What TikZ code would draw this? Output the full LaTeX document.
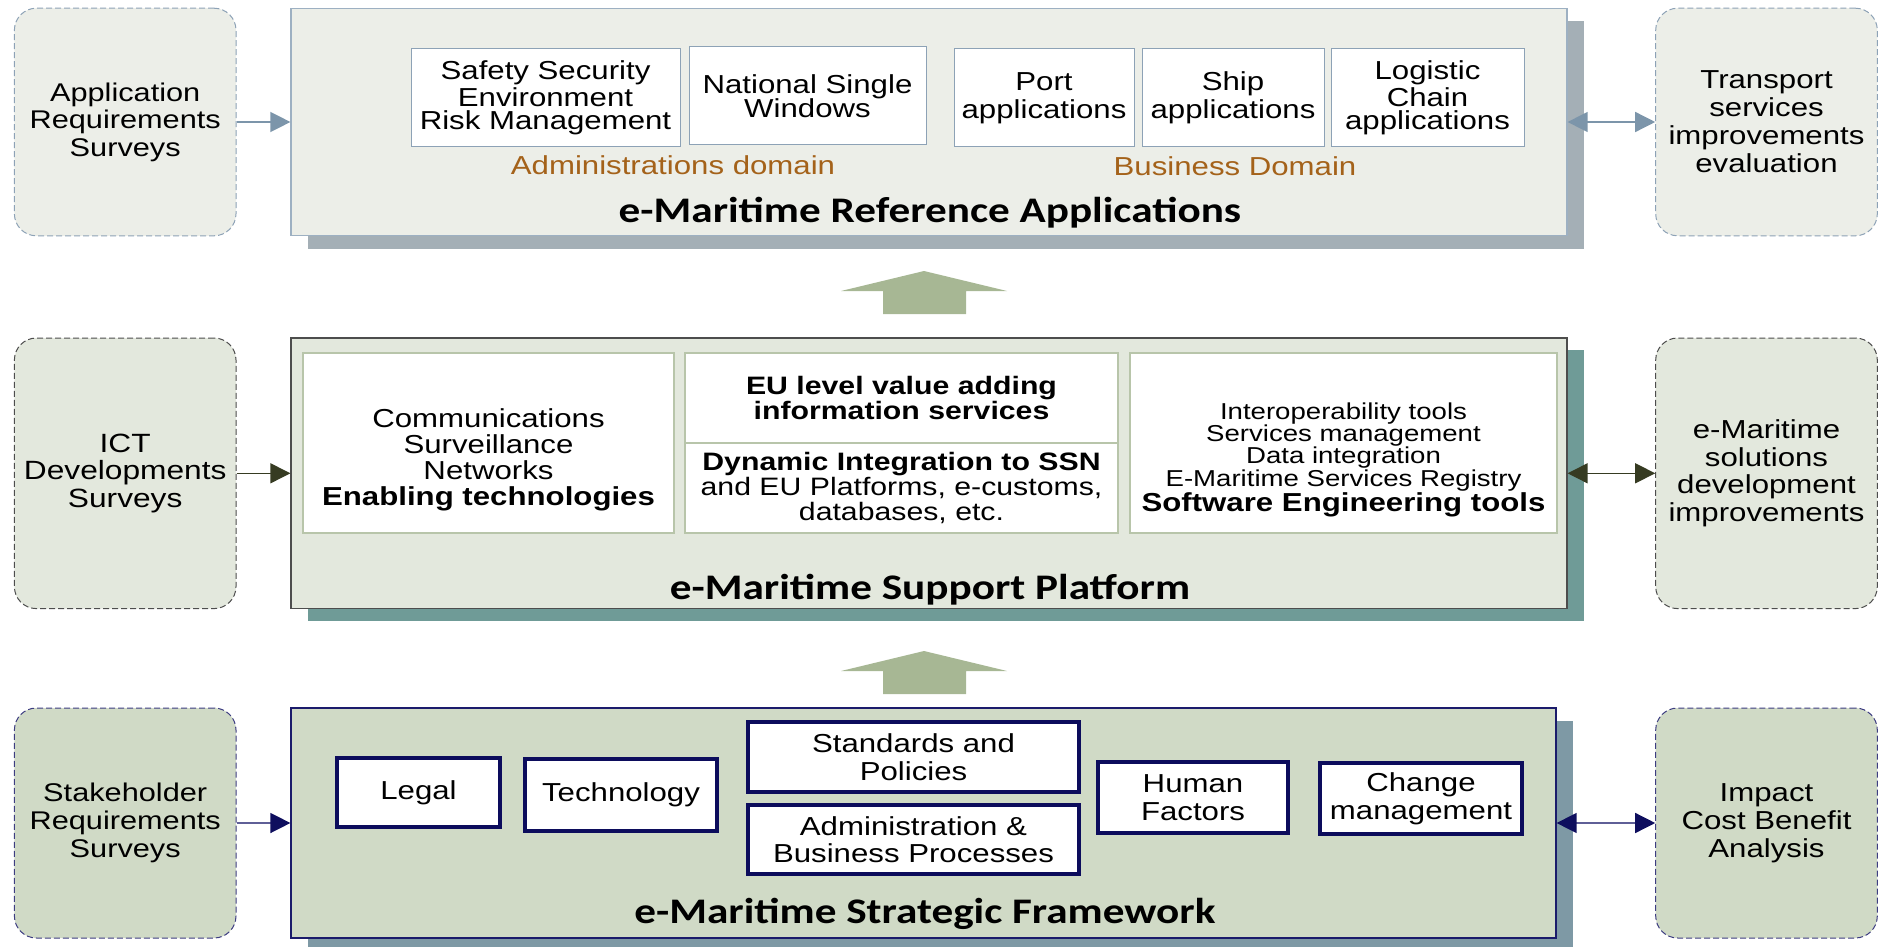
\documentclass[tikz,border=0pt]{standalone}
\usepackage{fontspec}
\setmainfont{Liberation Sans}[FakeStretch=1.2]
\newfontfamily\titlefont{Carlito}[FakeStretch=1.2]
\usetikzlibrary{arrows.meta,shadows}

\definecolor{appfill}{HTML}{ECEEE8}
\definecolor{appline}{HTML}{9DB0C2}
\definecolor{appshadow}{HTML}{A4AFB6}
\definecolor{appbox}{HTML}{8DA2B6}
\definecolor{apparrow}{HTML}{7C95AA}
\definecolor{supfill}{HTML}{E3E8DD}
\definecolor{supline}{HTML}{4D4D4D}
\definecolor{supbox}{HTML}{B8C5AA}
\definecolor{supshadow}{HTML}{6F9B97}
\definecolor{suparrow}{HTML}{363B22}
\definecolor{frmfill}{HTML}{D0DAC6}
\definecolor{frmline}{HTML}{1B1B6B}
\definecolor{frmbox}{HTML}{0C0C5C}
\definecolor{frmshadow}{HTML}{7E99A5}
\definecolor{frmarrow}{HTML}{0E0E5E}
\definecolor{domaintxt}{HTML}{A4621A}
\definecolor{liftarrow}{HTML}{A7B794}

\tikzset{
  >={Triangle[length=10pt,width=10pt]},
  sidebox/.style={rectangle, rounded corners=11pt, dashed, dash pattern=on 3pt off 1.5pt,
    line width=.5pt, minimum width=110.8pt, align=center, inner sep=0pt},
  panel/.style={rectangle, line width=.6pt, minimum width=638pt, inner sep=0pt},
  ptitle/.style={font=\titlefont\bfseries\fontsize{18}{18}\selectfont},
  domainlbl/.style={text=domaintxt, font=\fontsize{13}{13}\selectfont},
  appbox/.style={rectangle, draw=appbox, fill=white, line width=.5pt, align=center,
    inner sep=0pt, minimum height=49pt, font=\fontsize{13}{11.7}\selectfont},
  supbox/.style={rectangle, draw=supbox, fill=white, line width=1.4pt, inner sep=0pt},
  frmbox/.style={rectangle, draw=frmbox, fill=white, line width=2pt, align=center,
    inner sep=0pt, font=\fontsize{13}{13.8}\selectfont},
  apparr/.style={draw=apparrow, line width=.7pt},
  suparr/.style={draw=suparrow, line width=.7pt},
  frmarr/.style={draw=frmline!70, line width=.7pt}
}

\begin{document}
\begin{tikzpicture}[x=0.5pt,y=-0.5pt]
\useasboundingbox (0,0) rectangle (1879,947);

% three layers
\node[panel, fill=appfill, draw=appline, minimum height=113.8pt,
  drop shadow={shadow xshift=8.5pt, shadow yshift=-6.5pt, fill=appshadow, opacity=1}] (refapp) at (929,122) {};
\node[panel, fill=supfill, draw=supline, minimum height=135.3pt,
  drop shadow={shadow xshift=8.5pt, shadow yshift=-6pt, fill=supshadow, opacity=1}] (suppl) at (929,473.3) {};
\node[panel, fill=frmfill, draw=frmline, minimum width=632.5pt, minimum height=115pt,
  drop shadow={shadow xshift=8.5pt, shadow yshift=-6.5pt, fill=frmshadow, opacity=1}] (strfw) at (923.5,823) {};

% reference applications
\node[appbox, minimum width=134.5pt] (safety) at (545.5,98) {Safety Security\\Environment\\Risk Management};
\node[appbox, minimum width=118.5pt, font=\fontsize{13}{12.2}\selectfont] (nsw) at (807.5,96) {National Single\\Windows};
\node[appbox, minimum width=90pt, font=\fontsize{13}{13.8}\selectfont] (port) at (1044,98) {Port\\applications};
\node[appbox, minimum width=91pt, font=\fontsize{13}{13.8}\selectfont] (ship) at (1233,98) {Ship\\applications};
\node[appbox, minimum width=96.5pt] (logis) at (1427.5,98) {Logistic\\Chain\\applications};
\node[domainlbl] (admdom) at (673,165) {Administrations domain};
\node[domainlbl] (busdom) at (1235,166) {Business Domain};
\node[ptitle] (reftitle) at (930,213) {e-Maritime Reference Applications};

% support platform
\node[supbox, minimum width=185.5pt, minimum height=90pt] (enabox) at (488.5,443) {};
\node[align=center, font=\fontsize{13}{13}\selectfont] (enatxt) at (488.5,460)
  {Communications\\Surveillance\\Networks\\\textbf{Enabling technologies}};
\node[supbox, minimum width=216.5pt, minimum height=45pt, align=center,
  font=\bfseries\fontsize{12.6}{12.6}\selectfont] (eulev) at (901.5,398)
  {EU level value adding\\information services};
\node[supbox, minimum width=216.5pt, minimum height=45pt, align=center,
  font=\fontsize{12.6}{12.6}\selectfont] (dynint) at (901.5,488)
  {\textbf{Dynamic Integration to SSN}\\and EU Platforms, e-customs,\\databases, etc.};
\node[supbox, minimum width=213.5pt, minimum height=90pt] (swbox) at (1343.5,443) {};
\node[align=center, font=\fontsize{11.5}{11.2}\selectfont] (swtxt) at (1343.5,460)
  {Interoperability tools\\Services management\\Data integration\\E-Maritime Services Registry\\
   {\bfseries\fontsize{13}{13}\selectfont Software Engineering tools}};
\node[ptitle] (suptitle) at (930,590) {e-Maritime Support Platform};

% strategic framework
\node[frmbox, minimum width=81.5pt, minimum height=34.5pt] (legal) at (418.5,792.5) {Legal};
\node[frmbox, minimum width=96pt, minimum height=36pt] (techn) at (621,795) {Technology};
\node[frmbox, minimum width=165.5pt, minimum height=35pt] (stdpol) at (913.5,757) {Standards and\\Policies};
\node[frmbox, minimum width=165.5pt, minimum height=34.5pt] (admbp) at (913.5,839.5) {Administration \&\\Business Processes};
\node[frmbox, minimum width=95pt, minimum height=35.5pt] (human) at (1193,797.5) {Human\\Factors};
\node[frmbox, minimum width=101pt, minimum height=35.5pt] (chmgt) at (1421,798.5) {Change\\management};
\node[ptitle] (frmtitle) at (925,914) {e-Maritime Strategic Framework};

% surveys and evaluations
\node[sidebox, fill=appfill, draw=appbox, minimum height=113.8pt,
  font=\fontsize{12.8}{13.8}\selectfont] (appreq) at (125.2,122) {Application\\Requirements\\Surveys};
\node[sidebox, fill=supfill, draw=supline, minimum height=135.3pt,
  font=\fontsize{13.2}{13.8}\selectfont] (ictdev) at (125.2,473.3) {ICT\\Developments\\Surveys};
\node[sidebox, fill=frmfill, draw=frmline!85, minimum height=115pt,
  font=\fontsize{12.8}{14}\selectfont] (stkreq) at (125.2,823) {Stakeholder\\Requirements\\Surveys};
\node[sidebox, fill=appfill, draw=appbox, minimum height=113.8pt,
  font=\fontsize{13}{14}\selectfont] (trsev) at (1766.5,122) {Transport\\services\\improvements\\evaluation};
\node[sidebox, fill=supfill, draw=supline, minimum height=135.3pt,
  font=\fontsize{13}{13.8}\selectfont] (soldev) at (1766.5,473.3) {e-Maritime\\solutions\\development\\improvements};
\node[sidebox, fill=frmfill, draw=frmline!85, minimum height=115pt,
  font=\fontsize{13}{14}\selectfont] (impact) at (1766.5,823) {Impact\\Cost Benefit\\Analysis};

% connectors
\draw[apparr, ->] (appreq.east) -- (refapp.west);
\draw[apparr, <->] (refapp.east) -- (trsev.west);
\draw[suparr, ->] (ictdev.east) -- (suppl.west);
\draw[suparr, <->] (suppl.east) -- (soldev.west);
\draw[frmarr, -{Triangle[length=10pt,width=10pt,color=frmarrow]}] (stkreq.east) -- (strfw.west);
\draw[frmarr, {Triangle[length=10pt,width=10pt,color=frmarrow]}-{Triangle[length=10pt,width=10pt,color=frmarrow]}] (strfw.east) -- (impact.west);

% lift arrows between layers
\foreach \ty in {271,651}
  \fill[liftarrow] (924,\ty) -- (1007,\ty+20) -- (966,\ty+20) -- (966,\ty+43)
    -- (883,\ty+43) -- (883,\ty+20) -- (841,\ty+20) -- cycle;
\end{tikzpicture}
\end{document}
